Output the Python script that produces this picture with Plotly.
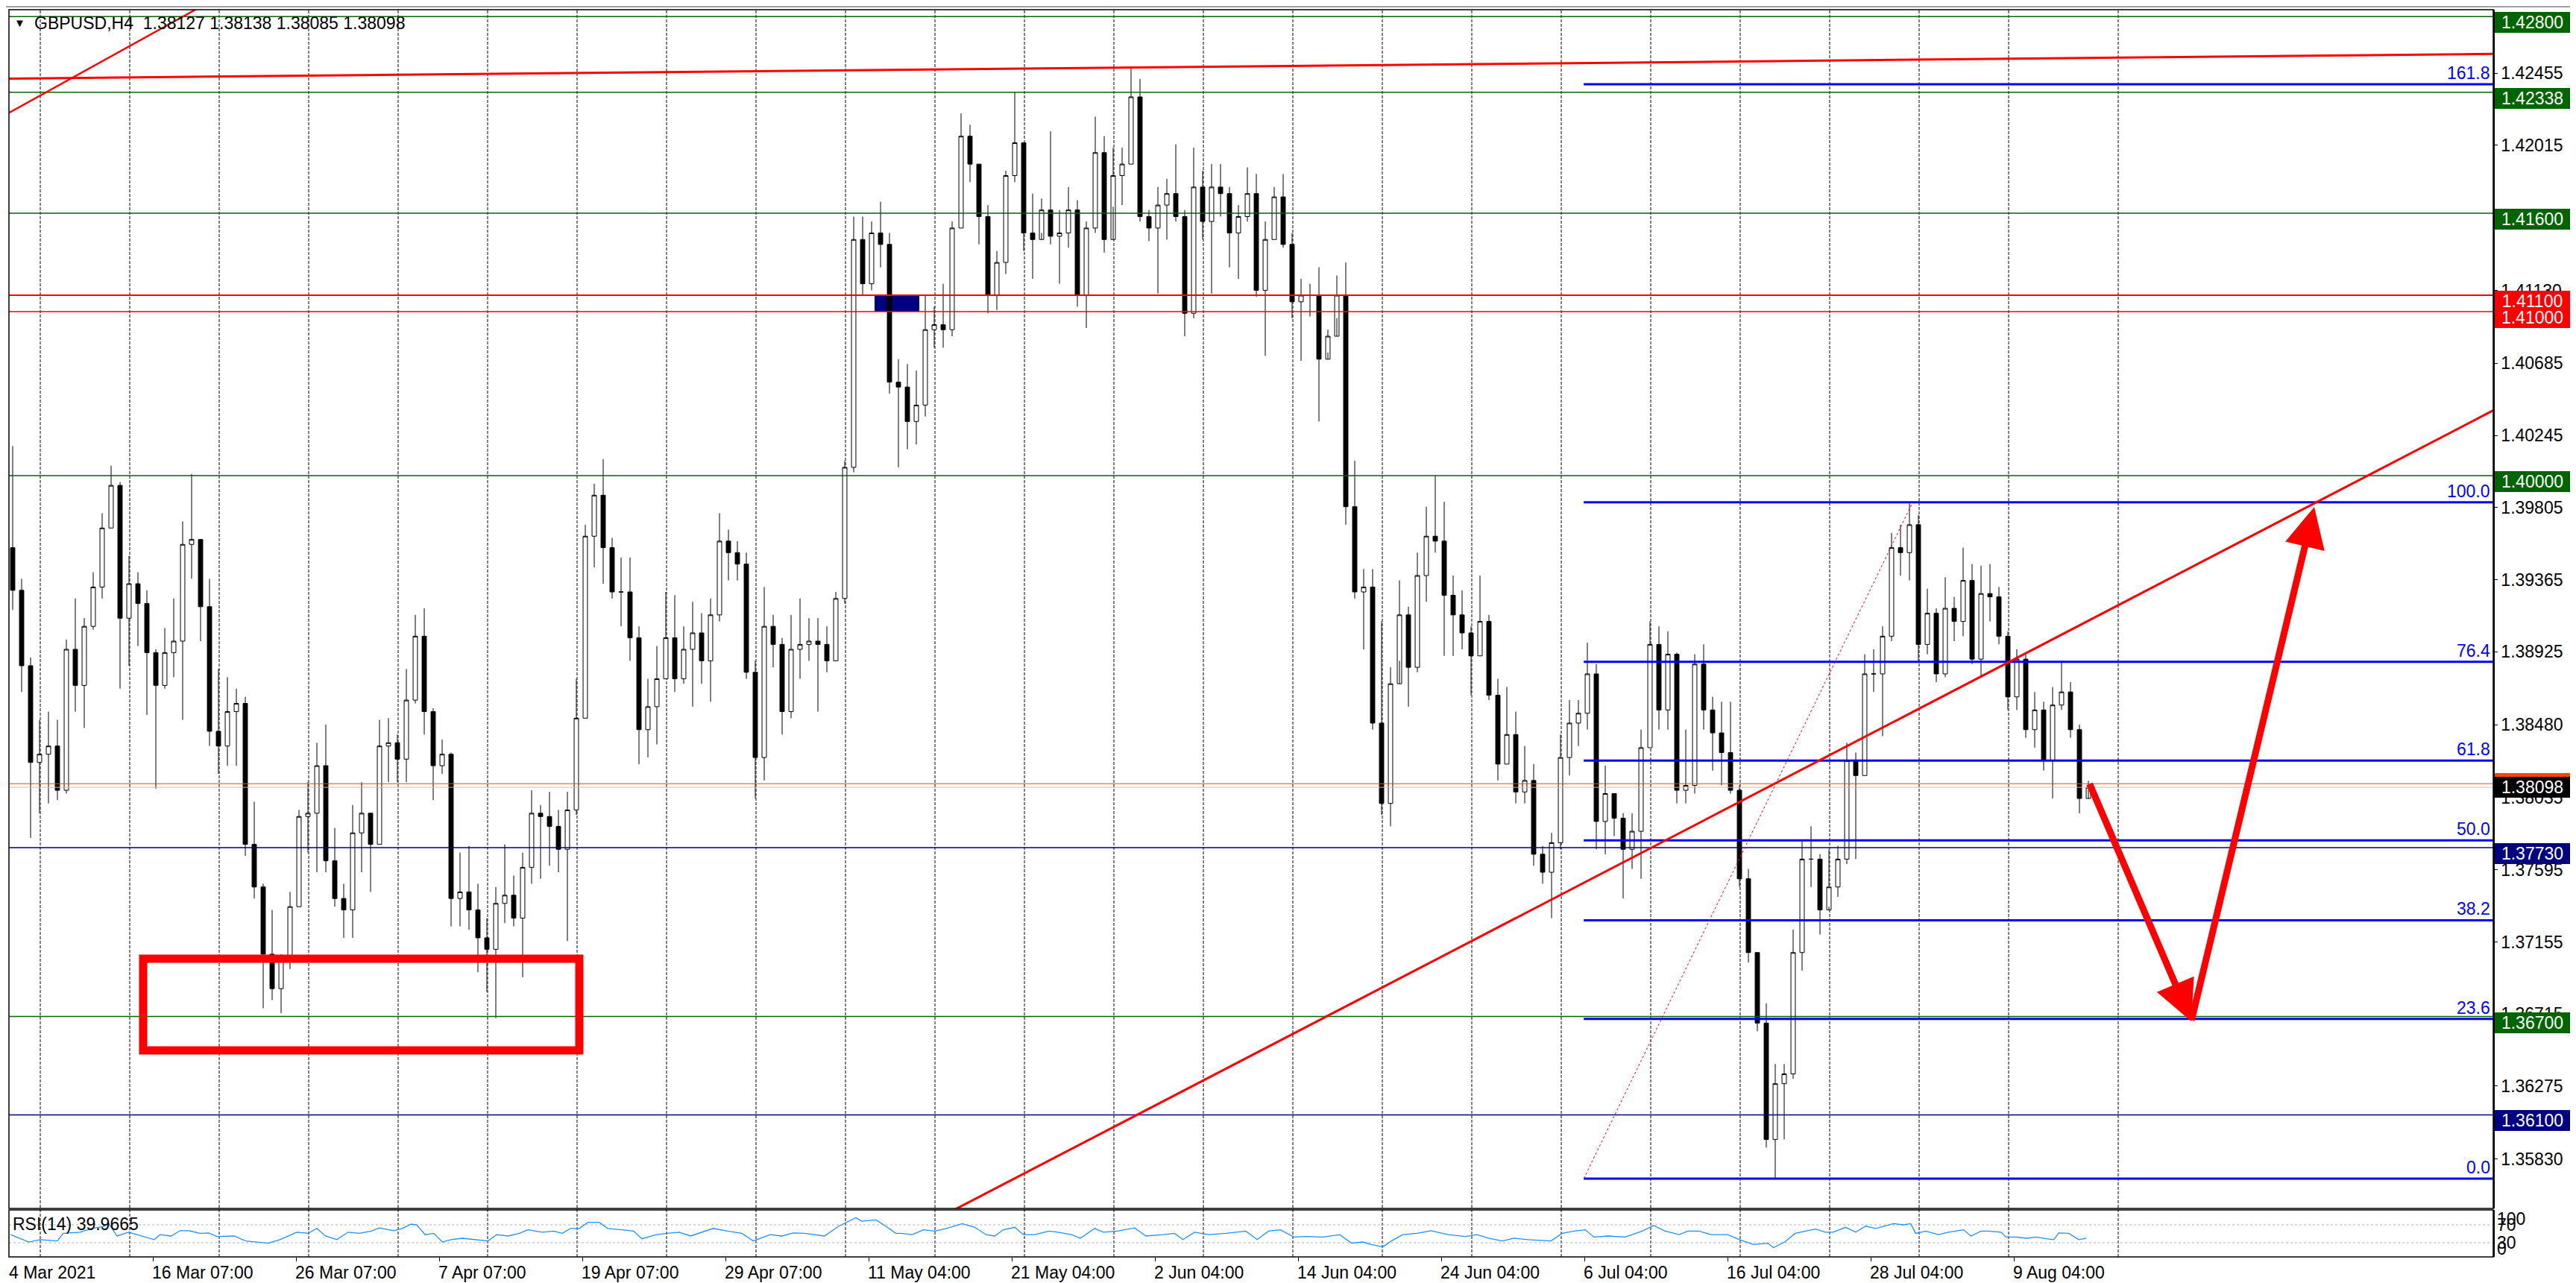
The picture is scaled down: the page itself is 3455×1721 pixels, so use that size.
import plotly.graph_objects as go

FONT = "Liberation Sans, Arial, sans-serif"

# ---------------- data (12-hour candles) ----------------
first_open = 1.3956
close = [1.3930,1.3884,1.3825,1.3830,1.3835,1.3808,1.3894,1.3872,1.3908,1.3932,
         1.3968,1.3994,1.3913,1.3934,1.3922,1.3892,1.3872,1.3892,1.3899,1.3958,
         1.3961,1.3920,1.3844,1.3835,1.3856,1.3861,1.3775,1.3749,1.3708,1.3687,
         1.3704,1.3737,1.3792,1.3794,1.3823,1.3765,1.3742,1.3735,1.3782,1.3794,
         1.3775,1.3835,1.3837,1.3827,1.3863,1.3902,1.3856,1.3823,1.3830,1.3742,
         1.3746,1.3735,1.3718,1.3711,1.3739,1.3744,1.3730,1.3761,1.3794,1.3792,
         1.3786,1.3772,1.3796,1.3852,1.3963,1.3988,1.3956,1.3929,1.3929,1.3901,
         1.3845,1.3859,1.3876,1.3901,1.3876,1.3894,1.3904,1.3887,1.3915,1.3960,
         1.3953,1.3946,1.3880,1.3828,1.3908,1.3897,1.3856,1.3894,1.3897,1.3899,
         1.3897,1.3887,1.3925,1.4005,1.4144,1.4117,1.4148,1.4141,1.4057,1.4054,
         1.4033,1.4043,1.4089,1.4092,1.4089,1.4151,1.4207,1.4190,1.4158,1.4110,
         1.4130,1.4183,1.4203,1.4148,1.4144,1.4162,1.4146,1.4148,1.4162,1.4110,
         1.4151,1.4197,1.4144,1.4183,1.4190,1.4231,1.4158,1.4151,1.4165,1.4172,
         1.4158,1.4099,1.4176,1.4155,1.4176,1.4172,1.4148,1.4158,1.4172,1.4113,
         1.4144,1.4170,1.4141,1.4106,1.4110,1.4110,1.4071,1.4085,1.4110,1.3981,
         1.3929,1.3932,1.3849,1.3800,1.3873,1.3915,1.3883,1.3939,1.3963,1.3960,
         1.3927,1.3915,1.3904,1.3890,1.3911,1.3866,1.3824,1.3842,1.3807,1.3814,
         1.3769,1.3758,1.3776,1.3828,1.3849,1.3855,1.3879,1.3789,1.3806,1.3791,
         1.3772,1.3783,1.3834,1.3897,1.3857,1.3891,1.3808,1.3811,1.3885,1.3857,
         1.3843,1.3831,1.3808,1.3754,1.3709,1.3666,1.3595,1.3629,1.3635,1.3709,
         1.3766,1.3766,1.3735,1.3749,1.3766,1.3826,1.3817,1.3879,1.3879,1.3902,
         1.3956,1.3953,1.3970,1.3897,1.3916,1.3879,1.3919,1.3911,1.3936,1.3888,
         1.3928,1.3926,1.3902,1.3865,1.3888,1.3845,1.3857,1.3826,1.3860,1.3868,
         1.3845,1.3803,1.38098]
high = [1.4018,1.3937,1.3889,1.3851,1.3856,1.3851,1.3900,1.3925,1.3913,1.3941,
        1.3977,1.4006,1.3996,1.3951,1.3941,1.3930,1.3894,1.3907,1.3925,1.3972,
        1.4001,1.3961,1.3937,1.3882,1.3877,1.3870,1.3865,1.3801,1.3751,1.3735,
        1.3708,1.3746,1.3796,1.3813,1.3837,1.3848,1.3785,1.3751,1.3799,1.3813,
        1.3794,1.3851,1.3852,1.3842,1.3882,1.3915,1.3919,1.3858,1.3839,1.3831,
        1.3770,1.3774,1.3751,1.3730,1.3749,1.3775,1.3756,1.3770,1.3808,1.3799,
        1.3807,1.3796,1.3807,1.3876,1.3970,1.3995,1.4010,1.3962,1.3950,1.3950,
        1.3908,1.3876,1.3896,1.3929,1.3927,1.3908,1.3923,1.3916,1.3925,1.3977,
        1.3967,1.3960,1.3953,1.3887,1.3932,1.3915,1.3901,1.3915,1.3925,1.3913,
        1.3913,1.3908,1.3929,1.4009,1.4158,1.4158,1.4155,1.4167,1.4148,1.4071,
        1.4068,1.4064,1.4110,1.4103,1.4117,1.4155,1.4221,1.4214,1.4190,1.4165,
        1.4137,1.4186,1.4234,1.4203,1.4172,1.4169,1.4210,1.4162,1.4176,1.4168,
        1.4155,1.4219,1.4207,1.4200,1.4200,1.4249,1.4242,1.4162,1.4176,1.4181,
        1.4202,1.4162,1.4200,1.4186,1.4190,1.4190,1.4176,1.4165,1.4188,1.4184,
        1.4155,1.4176,1.4184,1.4148,1.4120,1.4117,1.4127,1.4089,1.4122,1.4130,
        1.4009,1.3943,1.3943,1.3911,1.3883,1.3936,1.3920,1.3953,1.3981,1.4000,
        1.3984,1.3939,1.3930,1.3908,1.3939,1.3915,1.3876,1.3871,1.3856,1.3835,
        1.3824,1.3774,1.3782,1.3842,1.3863,1.3863,1.3898,1.3885,1.3823,1.3806,
        1.3794,1.3794,1.3845,1.3911,1.3908,1.3905,1.3892,1.3845,1.3891,1.3897,
        1.3865,1.3862,1.3862,1.3811,1.3760,1.3709,1.3678,1.3641,1.3641,1.3723,
        1.3777,1.3786,1.3769,1.3772,1.3774,1.3837,1.3831,1.3891,1.3894,1.3908,
        1.3965,1.3970,1.3983,1.3976,1.3931,1.3919,1.3938,1.3926,1.3956,1.3946,
        1.3945,1.3946,1.3932,1.3905,1.3894,1.3891,1.3868,1.3862,1.3871,1.3887,
        1.3874,1.3848,1.38138]
low = [1.3918,1.3868,1.3779,1.3794,1.3800,1.3802,1.3806,1.3856,1.3846,1.3906,
       1.3925,1.3968,1.3870,1.3884,1.3896,1.3854,1.3809,1.3870,1.3877,1.3851,
       1.3937,1.3899,1.3835,1.3818,1.3823,1.3823,1.3768,1.3742,1.3675,1.3680,
       1.3672,1.3699,1.3737,1.3770,1.3758,1.3758,1.3737,1.3718,1.3718,1.3758,
       1.3746,1.3775,1.3813,1.3813,1.3813,1.3861,1.3842,1.3802,1.3818,1.3725,
       1.3725,1.3723,1.3697,1.3685,1.3669,1.3727,1.3725,1.3694,1.3751,1.3754,
       1.3762,1.3758,1.3716,1.3793,1.3852,1.3944,1.3934,1.3925,1.3908,1.3887,
       1.3824,1.3828,1.3836,1.3876,1.3868,1.3873,1.3859,1.3873,1.3862,1.3911,
       1.3936,1.3936,1.3876,1.3803,1.3814,1.3883,1.3842,1.3852,1.3876,1.3887,
       1.3856,1.3880,1.3887,1.3922,1.4002,1.4110,1.4113,1.4127,1.4050,1.4005,
       1.4016,1.4019,1.4036,1.4078,1.4078,1.4085,1.4151,1.4179,1.4141,1.4099,
       1.4101,1.4123,1.4179,1.4137,1.4120,1.4148,1.4141,1.4117,1.4139,1.4103,
       1.4090,1.4148,1.4136,1.4164,1.4165,1.4190,1.4155,1.4143,1.4111,1.4144,
       1.4155,1.4085,1.4096,1.4144,1.4111,1.4158,1.4127,1.4120,1.4155,1.4109,
       1.4073,1.4144,1.4139,1.4096,1.4070,1.4097,1.4033,1.4075,1.4096,1.3970,
       1.3925,1.3894,1.3845,1.3793,1.3786,1.3887,1.3859,1.3880,1.3923,1.3953,
       1.3890,1.3890,1.3894,1.3866,1.3890,1.3863,1.3814,1.3824,1.3800,1.3800,
       1.3762,1.3751,1.3730,1.3772,1.3817,1.3835,1.3845,1.3772,1.3769,1.3780,
       1.3742,1.3760,1.3754,1.3834,1.3845,1.3845,1.3800,1.3800,1.3806,1.3845,
       1.3820,1.3811,1.3806,1.3749,1.3703,1.3661,1.3590,1.3571,1.3595,1.3632,
       1.3698,1.3749,1.3720,1.3737,1.3743,1.3763,1.3766,1.3817,1.3868,1.3841,
       1.3899,1.3939,1.3936,1.3887,1.3891,1.3874,1.3877,1.3899,1.3902,1.3885,
       1.3877,1.3911,1.3897,1.3857,1.3857,1.3840,1.3834,1.3820,1.3803,1.3857,
       1.3840,1.3794,1.38085]
open_ = [first_open] + close[:-1]
candle_bar = [3 * k + 1 for k in range(len(close))]   # H4 bar index of each 12h candle

rsi_bar = [0.3,6.4,10.2,16,17.9,23.6,27.4,31.3,33.2,36,39.9,44.7,48.5,50.4,54.2,57.1,60,63.8,
           66.7,69.5,75.3,79.1,82.9,86.7,90.6,96.3,100.1,103,105.9,109.7,113.5,117.3,121.2,124,
           128.8,131.7,134.6,136.5,139.3,142.2,145.1,147.9,151.8,155.6,160.4,163.3,167.1,170.9,
           173.8,178.6,182.4,185.3,188.1,191,193.9,197.7,200.5,205.3,209.2,212,216.8,220.6,224.5,
           228.3,232.1,235.9,240.7,245.5,249.3,255,258.9,262.7,266.5,273.2,278,283.7,285.7,290.5,
           294.3,297.1,298.8,302.6,306.4,310.2,314.1,319.4,323.6,327.4,330.3,333.2,337,339.9,
           343.7,348.5,351.4,356.1,359,363.8,366.7,371.4,377.2,381,386.7,390.6,393.4,397.3,402,
           407.8,414.5,418.3,422.1,426,430.7,434.6,440.3,446,449.9,453.7,456.6,460.4,463.3,467.1,
           471.9,476.6,482.4,488.1,492,495.8,500.5,504.4,509.2,516.8,520.6,524.5,528.3,531.2,
           535.9,541.7,547.4,551.2,555.1,559.8,562.7,566.5,570.4,576.1,580,584.7,589.5,591.4,
           595.2,598.7,602.1,605.5,608.8,611.4,615.6,619,622.3,625.7,631.6,634.9,637.4,639.1,
           642.5,646.7,650.1,655.1,657.6,661,663.5,667.7,669.4,672.8,676.1,679.5,682.9,685.4,
           687.1,690.4,693.8,696.3]
rsi_val = [48,31.6,37,34,51,53.6,62,66,72.7,45,53.6,45,37,48,45,57,57,51,
           52,44,45,34,31.6,29,37,53.6,51,62,45,37,53.6,51,56,63,
           57,62,71.6,70,48,51,31.6,37,40,37,34,48,45,51,
           59,53.6,56,51,62,62,75.5,75.5,62,59,56,38.8,48,51,53.6,
           45,53.6,62,56,51,34,48,45,52,51,45,67,86,78,81,
           64.5,51,51,48,59,56,62,72.7,64.5,48,45,59,64.5,48,
           48,56,53.6,48,40,62,53.6,56,63,45,48,51,37,53.6,48,
           51,56,37,56,59,42.6,44,42.6,48,29,31.6,26,20.7,34,48,
           51,57,48,44,48,40,34,40,37,34,51,56,59,42.6,
           45,42.6,56,68.4,56,48,56,56,48,48,37,26,29,19,
           31.6,51,56,60.7,53.6,53.6,64.5,53.6,67,62,72.7,70,72.7,51,
           56,48,53.6,59,45,56,56,53.6,42.6,42.6,40,42.6,38.8,37,
           52,51,37,39.97]

date_tick_bar = [0, 48, 96, 144, 192, 240, 288, 336, 384, 432, 480, 528, 576, 624, 672]
date_tick_text = ["4 Mar 2021", "16 Mar 07:00", "26 Mar 07:00", "7 Apr 07:00", "19 Apr 07:00",
                  "29 Apr 07:00", "11 May 04:00", "21 May 04:00", "2 Jun 04:00", "14 Jun 04:00",
                  "24 Jun 04:00", "6 Jul 04:00", "16 Jul 04:00", "28 Jul 04:00", "9 Aug 04:00"]

price_ticks = [1.42455, 1.42015, 1.41575, 1.41130, 1.40685, 1.40245, 1.39805, 1.39365,
               1.38925, 1.38480, 1.38035, 1.37595, 1.37155, 1.36715, 1.36275, 1.35830]

level_prices = [1.42800, 1.42338, 1.41600, 1.41100, 1.41000, 1.40000, 1.37730, 1.36700, 1.36100]
level_colors = ["#006400", "#006400", "#006400", "#FF0000", "#FF0000", "#006400",
                "#000080", "#006400", "#000080"]

bid_price = 1.38098
ask_price = 1.38120

fib_low, fib_high = 1.35711, 1.39837
fib_bar_start, fib_bar_end = 527.8, 638.1
fib_levels = [0.0, 23.6, 38.2, 50.0, 61.8, 76.4, 100.0, 161.8]

# trend lines: two anchor points each (bar, price)
steep_line = [(-0.1, 1.42214), (62.25, 1.42842)]
flat_line = [(-1.25, 1.42421), (832.75, 1.42572)]
rising_line = [(518.75, 1.37430), (698.75, 1.39131)]

support_box = dict(bar0=44.75, bar1=191, p0=1.36493, p1=1.37053)
navy_box = dict(bar0=290, bar1=305, p0=1.41000, p1=1.41100)

arrow_path = [(697.25, 1.38126), (731.5, 1.36671), (772.75, 1.39808)]

# ---------------- layout geometry ----------------
W, H = 3455, 1721
ML, MR, MT, MB = 4, 119, 5, 43
PH = H - MT - MB
PRICE_DOM = [(1678 - 1613) / PH, 1.0]
RSI_DOM = [0.0, (1678 - 1615) / PH]
YMIN, YMAX = 1.35529, 1.42842
XMIN, XMAX = -0.25, 832.75


def ypix_to_paper(ypix):
    return (H - MB - ypix) / PH


fig = go.Figure()

fig.add_trace(go.Candlestick(
    x=candle_bar, open=open_, high=high, low=low, close=close,
    increasing=dict(line=dict(color="black", width=1), fillcolor="white"),
    decreasing=dict(line=dict(color="black", width=1), fillcolor="black"),
    whiskerwidth=0, showlegend=False, hoverinfo="skip",
    xaxis="x", yaxis="y"))

fig.add_trace(go.Scatter(
    x=rsi_bar, y=rsi_val, mode="lines", line=dict(color="#1E90FF", width=1.3),
    showlegend=False, hoverinfo="skip", xaxis="x", yaxis="y2"))

shapes = []
# vertical dashed grid
grid_bars = [10.25 + 30 * k for k in range(23)] + [707]
for gb in grid_bars:
    shapes.append(dict(type="line", xref="x", yref="paper", x0=gb, x1=gb, y0=0, y1=1,
                       line=dict(color="black", width=1, dash="4px,2px"), layer="below"))
# RSI 70 / 30 levels
for lv in (70, 30):
    shapes.append(dict(type="line", xref="paper", yref="y2", x0=0, x1=1, y0=lv, y1=lv,
                       line=dict(color="#B4B4B4", width=1, dash="3px,3px"), layer="below"))
# navy box (background)
shapes.append(dict(type="rect", xref="x", yref="y", x0=navy_box["bar0"], x1=navy_box["bar1"],
                   y0=navy_box["p0"], y1=navy_box["p1"], fillcolor="#000080",
                   line=dict(width=0), layer="below"))
# bid / ask lines
shapes.append(dict(type="line", xref="paper", yref="y", x0=0, x1=1, y0=bid_price, y1=bid_price,
                   line=dict(color="#C0C0C0", width=1)))
shapes.append(dict(type="line", xref="paper", yref="y", x0=0, x1=1, y0=ask_price, y1=ask_price,
                   line=dict(color="#FF4500", width=1)))
# horizontal levels
for p, c in zip(level_prices, level_colors):
    w = 1.5 if p != 1.41100 else 2
    shapes.append(dict(type="line", xref="paper", yref="y", x0=0, x1=1, y0=p, y1=p,
                       line=dict(color=c, width=w)))
# fibonacci
rng = fib_high - fib_low
for lev in fib_levels:
    fp = fib_low + rng * lev / 100.0
    shapes.append(dict(type="line", xref="x", yref="y", x0=fib_bar_start, x1=XMAX, y0=fp, y1=fp,
                       line=dict(color="#0000FF", width=3)))
shapes.append(dict(type="line", xref="x", yref="y", x0=fib_bar_start, x1=fib_bar_end,
                   y0=fib_low, y1=fib_high, line=dict(color="#FF0000", width=1, dash="dot")))


# trend lines extended to the plot edges
def extend(pts, xa, xb):
    (x1, y1), (x2, y2) = pts
    s = (y2 - y1) / (x2 - x1)
    return xa, y1 + s * (xa - x1), xb, y1 + s * (xb - x1)


for pts, w in ((steep_line, 2.5), (flat_line, 3), (rising_line, 3)):
    xa, ya, xb, yb = extend(pts, XMIN - 5, XMAX + 5)
    shapes.append(dict(type="line", xref="x", yref="y", x0=xa, y0=ya, x1=xb, y1=yb,
                       line=dict(color="#FF0000", width=w)))
# red support rectangle
shapes.append(dict(type="rect", xref="x", yref="y", x0=support_box["bar0"], x1=support_box["bar1"],
                   y0=support_box["p0"], y1=support_box["p1"],
                   line=dict(color="#FF0000", width=11)))
# panel frames
shapes.append(dict(type="rect", xref="paper", yref="paper", x0=0, x1=1,
                   y0=PRICE_DOM[0], y1=1, line=dict(color="black", width=1.5)))
shapes.append(dict(type="rect", xref="paper", yref="paper", x0=0, x1=1,
                   y0=RSI_DOM[0], y1=RSI_DOM[1], line=dict(color="black", width=1.5)))
# window chrome
PW = W - ML - MR
shapes.append(dict(type="rect", xref="paper", yref="paper",
                   x0=(0 - ML) / PW, x1=(W - ML) / PW, y0=ypix_to_paper(1721), y1=ypix_to_paper(1716),
                   fillcolor="#F0F0F0", line=dict(color="#A0A0A0", width=1)))
shapes.append(dict(type="line", xref="paper", yref="paper",
                   x0=(3453 - ML) / PW, x1=(3453 - ML) / PW, y0=ypix_to_paper(1716), y1=ypix_to_paper(0),
                   line=dict(color="#A0A0A0", width=2)))
shapes.append(dict(type="line", xref="paper", yref="paper",
                   x0=(0 - ML) / PW, x1=(W - ML) / PW, y0=ypix_to_paper(1), y1=ypix_to_paper(1),
                   line=dict(color="#A0A0A0", width=2)))

ann = []
# header
ann.append(dict(xref="paper", yref="paper", x=0, y=1, xanchor="left", yanchor="middle",
                xshift=5, yshift=-17, text="▼", showarrow=False,
                font=dict(family=FONT, size=15, color="black")))
ann.append(dict(xref="paper", yref="paper", x=0, y=1, xanchor="left", yanchor="middle",
                xshift=32, yshift=-18,
                text="GBPUSD,H4&nbsp;&nbsp;1.38127 1.38138 1.38085 1.38098", showarrow=False,
                font=dict(family=FONT, size=23, color="black")))
# RSI label
ann.append(dict(xref="paper", yref="paper", x=0, y=ypix_to_paper(1634), xanchor="left",
                yanchor="middle", xshift=3, text="RSI(14) 39.9665", showarrow=False,
                font=dict(family=FONT, size=23, color="black")))
# RSI scale
for txt, yv in (("100", 83), ("70", 70), ("30", 30), ("0", 17)):
    ann.append(dict(xref="paper", yref="y2", x=1, y=yv, xanchor="left", yanchor="middle",
                    xshift=3, text=txt, showarrow=False,
                    font=dict(family=FONT, size=23, color="black")))
# date labels
for b, t in zip(date_tick_bar, date_tick_text):
    ann.append(dict(xref="x", yref="paper", x=b, y=ypix_to_paper(1699), xanchor="left",
                    yanchor="middle", xshift=-3, text=t, showarrow=False,
                    font=dict(family=FONT, size=23, color="black")))
# fib labels
for lev in fib_levels:
    fp = fib_low + rng * lev / 100.0
    ann.append(dict(xref="paper", yref="y", x=1, y=fp, xanchor="right", yanchor="bottom",
                    xshift=-2, yshift=0, text=f"{lev:.1f}", showarrow=False,
                    font=dict(family=FONT, size=23, color="#0000FF")))
# price-level labels on the axis
for p, c in zip(level_prices, level_colors):
    ann.append(dict(xref="paper", yref="y", x=1, y=p, xanchor="left", yanchor="middle",
                    xshift=2, yshift=-8, text=f"{p:.5f}", showarrow=False, bgcolor=c,
                    width=97, height=24, borderpad=2, borderwidth=0,
                    font=dict(family=FONT, size=23, color="white")))
ann.append(dict(xref="paper", yref="y", x=1, y=ask_price, xanchor="left", yanchor="middle",
                xshift=2, text="", showarrow=False, bgcolor="#FF4500",
                width=97, height=24, borderpad=2, borderwidth=0,
                font=dict(family=FONT, size=23, color="white")))
ann.append(dict(xref="paper", yref="y", x=1, y=bid_price, xanchor="left", yanchor="middle",
                xshift=2, text=f"{bid_price:.5f}", showarrow=False, bgcolor="black",
                width=97, height=24, borderpad=2, borderwidth=0,
                font=dict(family=FONT, size=23, color="white")))
# forecast arrows
for (x0, y0), (x1, y1) in zip(arrow_path[:-1], arrow_path[1:]):
    ann.append(dict(xref="x", yref="y", axref="x", ayref="y", x=x1, y=y1, ax=x0, ay=y0,
                    text="", showarrow=True, arrowhead=2, arrowsize=1.2, arrowwidth=9,
                    arrowcolor="#FF0000", standoff=0, startstandoff=0))

fig.update_layout(
    width=W, height=H, margin=dict(l=ML, r=MR, t=MT, b=MB, autoexpand=False),
    paper_bgcolor="white", plot_bgcolor="white", showlegend=False,
    font=dict(family=FONT, size=23, color="black"),
    shapes=shapes, annotations=ann, boxgap=0.3,
    xaxis=dict(domain=[0, 1], range=[XMIN, XMAX], anchor="y2", showgrid=False, zeroline=False,
               showline=False, ticks="outside", ticklen=5, tickcolor="black",
               tickvals=date_tick_bar[1:], showticklabels=False,
               rangeslider=dict(visible=False), fixedrange=True),
    yaxis=dict(domain=PRICE_DOM, range=[YMIN, YMAX], side="right", anchor="x", showgrid=False,
               zeroline=False, showline=True, linecolor="black", linewidth=1.5,
               ticks="outside", ticklen=4, tickcolor="black", tickvals=price_ticks,
               ticktext=[f"{v:.5f}" for v in price_ticks],
               tickfont=dict(family=FONT, size=23, color="black"), automargin=False),
    yaxis2=dict(domain=RSI_DOM, range=[-1.67, 103.3], side="right", anchor="x", showgrid=False,
                zeroline=False, showline=True, linecolor="black", linewidth=1.5,
                showticklabels=False, ticks="", automargin=False),
)

fig.write_html("out.html")
